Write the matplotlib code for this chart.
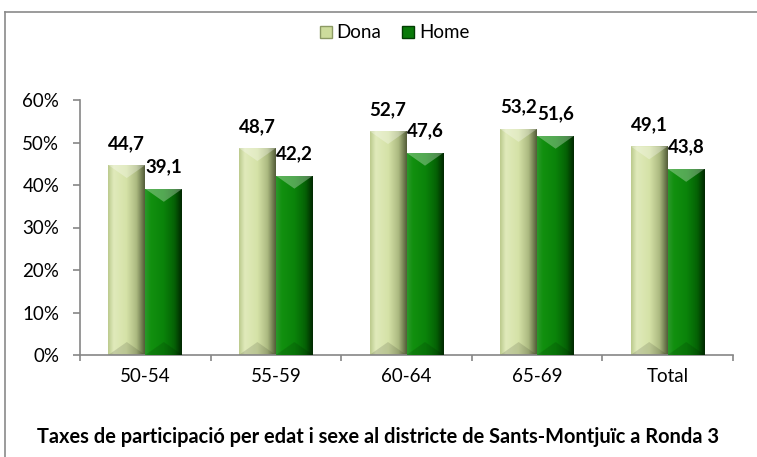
import numpy as np
import matplotlib
matplotlib.use('Agg')
import matplotlib.pyplot as plt
from matplotlib.colors import LinearSegmentedColormap
from matplotlib.patches import Patch, Polygon
from matplotlib.lines import Line2D

plt.rcParams['font.family'] = ['Lato', 'DejaVu Sans']

# data
categories = ['50-54', '55-59', '60-64', '65-69', 'Total']
dona = [44.7, 48.7, 52.7, 53.2, 49.1]
home = [39.1, 42.2, 47.6, 51.6, 43.8]
series_names = ['Dona', 'Home']
title = 'Taxes de participació per edat i sexe al districte de Sants-Montjuïc a Ronda 3'

# colour ramps across a bar (left -> right)
dona_cmap = LinearSegmentedColormap.from_list('dona', [
    (0.0, '#bccb8e'), (0.15, '#e0eabb'), (0.5, '#d5e2a7'),
    (0.78, '#abb980'), (0.92, '#737f52'), (1.0, '#545d3a')])
home_cmap = LinearSegmentedColormap.from_list('home', [
    (0.0, '#2a982a'), (0.15, '#12900f'), (0.5, '#0a840a'),
    (0.8, '#056205'), (0.93, '#023d02'), (1.0, '#012801')])

W, H = 757, 457
fig = plt.figure(figsize=(W / 100, H / 100), dpi=100)
ax = fig.add_axes([80 / W, 102 / H, 653 / W, 255 / H])

x = np.arange(len(categories))
w = 37 / 130.6
grad = np.linspace(0, 1, 64).reshape(1, -1)
gray = '#868686'

# bevel depth in data units (~13 px)
bev = 13 * 0.6 / 255

def draw_bars(xs, vals, cmap, zo):
    bars = ax.bar(xs, np.array(vals) / 100, w, color='none', edgecolor='none', zorder=zo)
    for b in bars:
        x0, x1 = b.get_x(), b.get_x() + b.get_width()
        h = b.get_height()
        xc = (x0 + x1) / 2
        im = ax.imshow(grad, extent=[x0, x1, 0, h], aspect='auto', cmap=cmap,
                       interpolation='bicubic', zorder=zo)
        im.set_clip_path(b)
        ax.add_patch(Polygon([(x0, h), (x1, h), (xc, h - bev)], closed=True,
                             facecolor='white', alpha=0.30, edgecolor='none', zorder=zo + 0.1))
        ax.add_patch(Polygon([(x0, 0), (x1, 0), (xc, bev)], closed=True,
                             facecolor='black', alpha=0.12, edgecolor='none', zorder=zo + 0.1))
    return bars

draw_bars(x - w / 2, dona, dona_cmap, 2)
draw_bars(x + w / 2, home, home_cmap, 3)

for xs, vals in ((x - w / 2, dona), (x + w / 2, home)):
    for xi, v in zip(xs, vals):
        ax.annotate(f'{v:.1f}'.replace('.', ','), (xi, v / 100), xytext=(0, 9.5),
                    textcoords='offset points', ha='center', va='bottom',
                    fontsize=13.5, fontweight='bold', color='black', zorder=5)

ax.set_xlim(-0.5, len(categories) - 0.5)
ax.set_ylim(0, 0.6)

ax.set_yticks(np.arange(0, 0.61, 0.1))
ax.set_yticklabels([f'{int(round(t * 100))}%' for t in np.arange(0, 0.61, 0.1)])
ax.set_xticks(np.arange(-0.5, len(categories), 1.0))
ax.set_xticklabels([])
ax.set_xticks(x, minor=True)
ax.set_xticklabels(categories, minor=True)

ax.tick_params(axis='y', length=5, width=1.2, color=gray, pad=10, labelsize=13.5)
ax.tick_params(axis='x', which='major', length=4.5, width=1.2, color=gray)
ax.tick_params(axis='x', which='minor', length=0, pad=9, labelsize=13.5)

for s in ('top', 'right'):
    ax.spines[s].set_visible(False)
for s in ('left', 'bottom'):
    ax.spines[s].set_color(gray)
    ax.spines[s].set_linewidth(1.2)

# legend
handles = [Patch(facecolor='#cddc9c', edgecolor='#8c9a64'),
           Patch(facecolor='#0a7a0a', edgecolor='#023d02')]
fig.legend(handles, series_names, loc='center', bbox_to_anchor=(0.521, 1 - 33 / H),
           ncol=2, frameon=False, fontsize=13.5, handlelength=0.65, handleheight=0.65,
           handletextpad=0.25, columnspacing=1.1)

# title
fig.text(0.5, 1 - 437 / H, title, ha='center', va='center', fontsize=14.4, fontweight='bold')

# outer border (left and top visible)
bx, by = 4.5 / W, 1 - 11.5 / H
fig.add_artist(Line2D([bx, bx], [0, by], transform=fig.transFigure, color='#8a8a8a', lw=1.2))
fig.add_artist(Line2D([bx, 1], [by, by], transform=fig.transFigure, color='#8a8a8a', lw=1.2))

fig.savefig('out.png', dpi=100)
